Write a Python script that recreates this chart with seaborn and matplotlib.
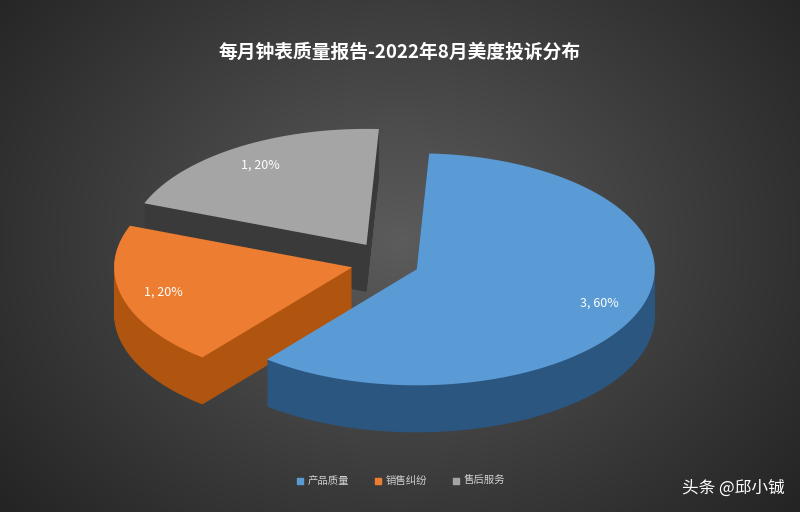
import numpy as np
import seaborn as sns
import matplotlib
matplotlib.use('Agg')
from matplotlib import pyplot as plt
from matplotlib.patches import Polygon

sns.set_style('white')
plt.rcParams['font.family'] = ['Noto Sans CJK SC', 'DejaVu Sans']

labels = ['产品质量', '销售纠纷', '售后服务']
values = [3, 1, 1]
colors = ['#5B9BD5', '#ED7D31', '#A5A5A5']
sides = ['#2A5680', '#B0550F', '#3A3A3A']
title = '每月钟表质量报告-2022年8月美度投诉分布'

cx, cy = 385, 262     # pie center in pixels
rx, ry = 238, 116     # ellipse radii
depth = 47
explode = 34
start = 87.0

fig = plt.figure(figsize=(8, 5.12), dpi=100)
ax = fig.add_axes([0, 0, 1, 1])
ax.set_xlim(0, 800)
ax.set_ylim(512, 0)
ax.axis('off')

# radial gradient background
yy, xx = np.mgrid[0:512, 0:800]
dist = np.sqrt(((xx - 400) / 520.0) ** 2 + ((yy - 240) / 420.0) ** 2)
shade = np.clip(0.36 - 0.22 * dist, 0.12, 0.4)
ax.imshow(np.dstack([shade] * 3), extent=[0, 800, 512, 0], zorder=0)

total = float(sum(values))
angles = []
a = start
for v in values:
    span = 360.0 * v / total
    angles.append((a - span, a))
    a -= span

order = [2, 1, 0]
for i in order:
    t1, t2 = angles[i]
    mid = np.radians((t1 + t2) / 2)
    ox = cx + explode * np.cos(mid)
    oy = cy - explode * 0.6 * np.sin(mid)
    t = np.radians(np.linspace(t1, t2, 120))
    px = np.concatenate([[ox], ox + rx * np.cos(t)])
    py = np.concatenate([[oy], oy - ry * np.sin(t)])
    for d in range(depth, 0, -1):
        ax.add_patch(Polygon(np.column_stack([px, py + d]), closed=True,
                             fc=sides[i], ec='none', zorder=2))
    ax.add_patch(Polygon(np.column_stack([px, py]), closed=True,
                         fc=colors[i], ec='none', zorder=3))
    lx = ox + 0.82 * rx * np.cos(mid)
    ly = oy - 0.82 * ry * np.sin(mid)
    ax.text(lx, ly, '%d, %d%%' % (values[i], round(100 * values[i] / total)),
            color='white', fontsize=9, ha='center', va='center', zorder=4)

ax.text(400, 52, title, color='white', fontsize=13.5, fontweight='bold',
        ha='center', va='center')

lx0 = [300, 378, 456]
for i, lab in enumerate(labels):
    ax.scatter(lx0[i], 481, marker='s', s=14, color=colors[i], zorder=5)
    ax.text(lx0[i] + 8, 481, lab, color='#D0D0D0', fontsize=7.5,
            va='center', ha='left')

ax.text(785, 488, '头条 @邱小铖', color='white', fontsize=12,
        ha='right', va='center')

fig.savefig('out.png', dpi=100)
